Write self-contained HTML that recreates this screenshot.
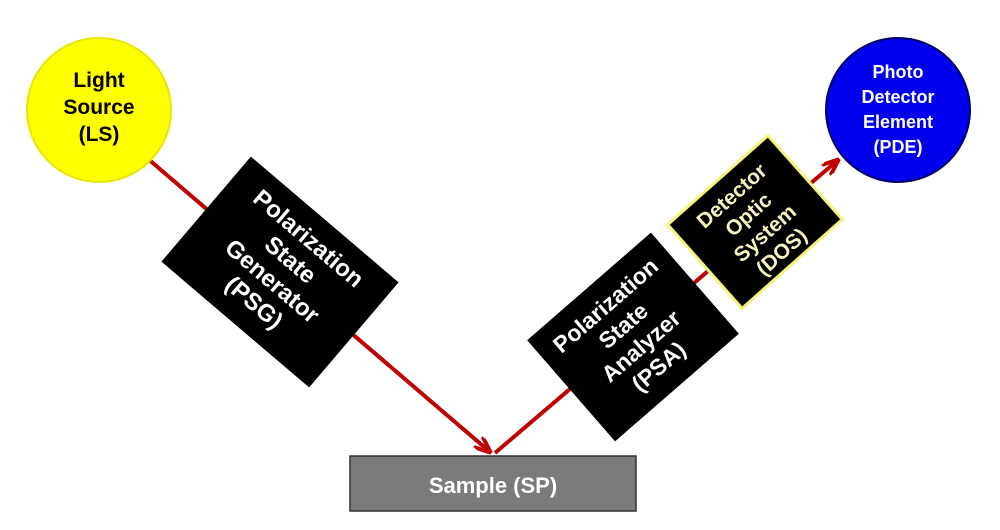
<!DOCTYPE html>
<html><head><meta charset="utf-8"><style>
html,body{margin:0;padding:0;background:#fff;}
svg{display:block;}
text{font-family:"Liberation Sans",Arial,sans-serif;font-weight:bold;}
</style></head><body>
<svg width="1000" height="530" viewBox="0 0 1000 530" xmlns="http://www.w3.org/2000/svg">
<defs>
<marker id="ah2" markerWidth="18" markerHeight="14" refX="16" refY="7" orient="auto" markerUnits="userSpaceOnUse">
<path d="M0,0 L17,7 L0,14" fill="none" stroke="#c00000" stroke-width="4"/>
</marker>
</defs>
<line x1="140" y1="152" x2="490" y2="452" stroke="#c00000" stroke-width="4" marker-end="url(#ah2)"/>
<line x1="495" y1="453" x2="838" y2="160" stroke="#c00000" stroke-width="4" marker-end="url(#ah2)"/>
<circle cx="99" cy="110" r="72" fill="#ffff00" stroke="#e6e600" stroke-width="2"/>
<text x="99" y="87" font-size="21" text-anchor="middle" fill="#000">Light</text>
<text x="99" y="114" font-size="21" text-anchor="middle" fill="#000">Source</text>
<text x="99" y="141" font-size="21" text-anchor="middle" fill="#000">(LS)</text>
<circle cx="898" cy="110" r="72" fill="#0000ee" stroke="#000066" stroke-width="2"/>
<text x="898" y="78" font-size="18" text-anchor="middle" fill="#fff">Photo</text>
<text x="898" y="103" font-size="18" text-anchor="middle" fill="#fff">Detector</text>
<text x="898" y="128" font-size="18" text-anchor="middle" fill="#fff">Element</text>
<text x="898" y="153" font-size="18" text-anchor="middle" fill="#fff">(PDE)</text>
<g transform="translate(280,272) rotate(40.4)">
<rect x="-97" y="-69" width="194" height="138" fill="#000"/>
<text x="0" y="-36" font-size="24" text-anchor="middle" fill="#fff">Polarization</text>
<text x="0" y="-8" font-size="24" text-anchor="middle" fill="#fff">State</text>
<text x="0" y="20" font-size="24" text-anchor="middle" fill="#fff">Generator</text>
<text x="0" y="48" font-size="24" text-anchor="middle" fill="#fff">(PSG)</text>
</g>
<g transform="translate(633,337) rotate(-41)">
<rect x="-82" y="-67" width="164" height="134" fill="#000"/>
<text x="0" y="-34" font-size="23" text-anchor="middle" fill="#fff">Polarization</text>
<text x="0" y="-7" font-size="23" text-anchor="middle" fill="#fff">State</text>
<text x="0" y="20" font-size="23" text-anchor="middle" fill="#fff">Analyzer</text>
<text x="0" y="47" font-size="23" text-anchor="middle" fill="#fff">(PSA)</text>
</g>
<g transform="translate(755,222) rotate(-41.6)">
<rect x="-67" y="-56" width="134" height="112" fill="#000" stroke="#f5f57a" stroke-width="3"/>
<text x="0" y="-28" font-size="21" text-anchor="middle" fill="#f8f4c0">Detector</text>
<text x="0" y="-3" font-size="21" text-anchor="middle" fill="#f8f4c0">Optic</text>
<text x="0" y="22" font-size="21" text-anchor="middle" fill="#f8f4c0">System</text>
<text x="0" y="47" font-size="21" text-anchor="middle" fill="#f8f4c0">(DOS)</text>
</g>
<rect x="350" y="456" width="286" height="55" fill="#7b7b7b" stroke="#333" stroke-width="1.5"/>
<text x="493" y="493" font-size="22" text-anchor="middle" fill="#fff">Sample (SP)</text>
</svg>
</body></html>
